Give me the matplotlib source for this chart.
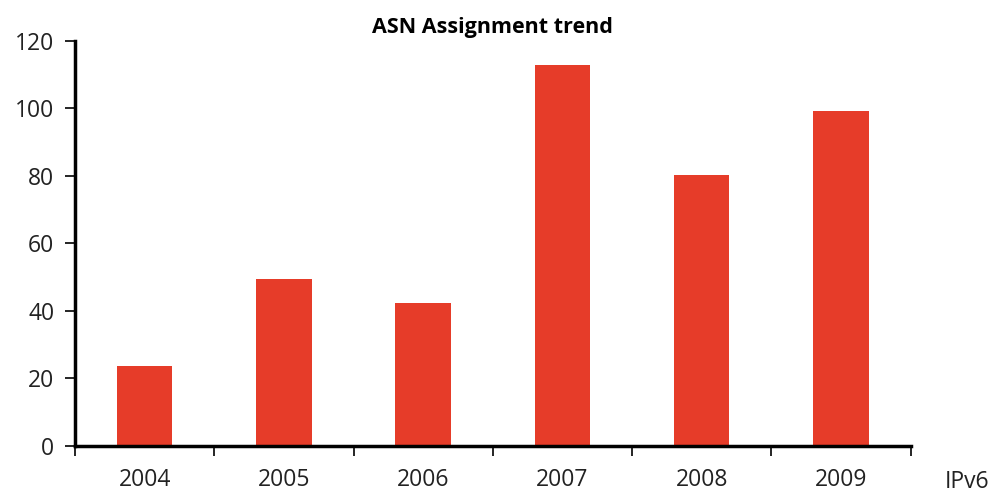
import matplotlib
matplotlib.use("Agg")
import matplotlib.pyplot as plt

years = ["2004", "2005", "2006", "2007", "2008", "2009"]
values = [23.6, 49.4, 42.3, 112.9, 80.3, 99.2]
title = "ASN Assignment trend"
series_label = "IPv6"
yticks = [0, 20, 40, 60, 80, 100, 120]

plt.rcParams['font.family'] = ['Open Sans', 'DejaVu Sans']

fig = plt.figure(figsize=(9.93, 4.95), dpi=100)
ax = fig.add_axes([75/993, 1-445.7/495, (910.5-75)/993, (445.7-41)/495])

x = range(len(years))
ax.bar(x, values, width=0.4, color="#E63C29", zorder=2)
ax.set_xlim(-0.5, len(years)-0.5)
ax.set_ylim(0, 120)
ax.set_yticks(yticks)
ax.set_yticklabels([str(v) for v in yticks], fontsize=16.5, color="#222222")

ax.set_xticks([i for i in x])
ax.set_xticklabels(years, fontsize=16.5, color="#222222")
ax.tick_params(axis='x', length=0, pad=16)
ax.set_xticks([i - 0.5 for i in range(len(years)+1)], minor=True)
ax.tick_params(axis='x', which='minor', length=7, width=1.2, direction='out', color='black')
ax.tick_params(axis='y', length=7, width=1.2, direction='out', pad=8)

for s in ['top', 'right']:
    ax.spines[s].set_visible(False)
ax.spines['left'].set_linewidth(2.5)
ax.spines['bottom'].set_linewidth(2.5)

ax.set_title(title, fontsize=15.5, fontweight='bold', pad=6)
fig.text(967/993, 1-482/495, series_label, fontsize=16.5, ha='center', va='center', color="#222222")

fig.savefig("out.png", dpi=100)
